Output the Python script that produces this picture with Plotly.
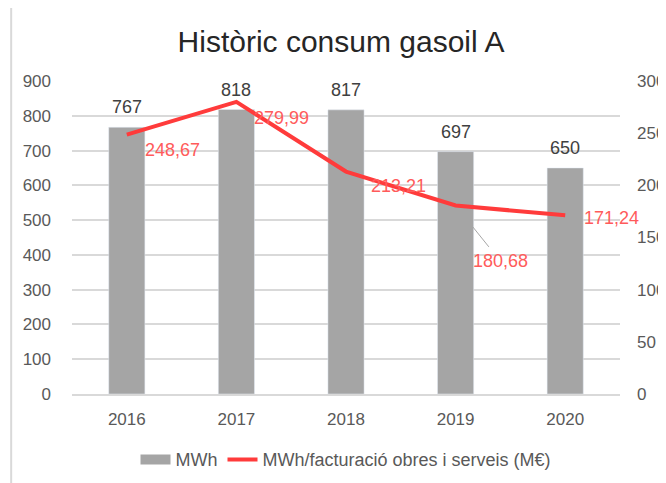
import plotly.graph_objects as go
from plotly.subplots import make_subplots

years = ["2016", "2017", "2018", "2019", "2020"]
mwh = [767, 818, 817, 697, 650]
mwh_per_m = [248.67, 279.99, 213.21, 180.68, 171.24]
line_labels = ["248,67", "279,99", "213,21", "180,68", "171,24"]

BAR_COLOR = "#A5A5A5"
LINE_COLOR = "#FF3B3B"
LABEL_RED = "#FF5B5B"
GRID = "#D9D9D9"
FONT = "Liberation Sans, Arial, sans-serif"

fig = make_subplots(specs=[[{"secondary_y": True}]])

fig.add_trace(go.Bar(
    x=years, y=mwh, marker_color=BAR_COLOR, width=0.33,
    showlegend=False, name="MWh",
), secondary_y=False)

# legend swatch for the bars (wide grey box like the original)
fig.add_trace(go.Scatter(
    x=[None], y=[None], mode="lines", name="MWh",
    line=dict(color=BAR_COLOR, width=10),
), secondary_y=False)

fig.add_trace(go.Scatter(
    x=years, y=mwh_per_m, mode="lines",
    line=dict(color=LINE_COLOR, width=4),
    name="MWh/facturació obres i serveis (M€)",
), secondary_y=True)

# bar value labels
for i, v in enumerate(mwh):
    fig.add_annotation(
        x=i, y=v, xref="x", yref="y", text=str(v), showarrow=False,
        yanchor="middle", yshift=20, font=dict(color="#404040", size=18),
    )

# line data labels (offsets in px); x given as category index
shifts = [(16, -15), (16, -16), (23, -14), None, (17, -3)]
for i, (val, lab, sh) in enumerate(zip(mwh_per_m, line_labels, shifts)):
    if sh is None:
        fig.add_annotation(
            x=i, y=val, xref="x", yref="y2", text=lab,
            showarrow=True, ax=45, ay=56, arrowhead=0, arrowwidth=1,
            arrowcolor="#A6A6A6", standoff=22, startstandoff=4,
            font=dict(color=LABEL_RED, size=18),
        )
    else:
        fig.add_annotation(
            x=i, y=val, xref="x", yref="y2", text=lab, showarrow=False,
            xanchor="left", yanchor="middle", xshift=sh[0], yshift=sh[1],
            font=dict(color=LABEL_RED, size=18),
        )

# outer chart border
fig.add_shape(type="rect", xref="paper", yref="paper",
              x0=-0.111, x1=1.1, y0=-0.4, y1=1.25,
              line=dict(color=GRID, width=2), layer="below")

# page has an 8px body margin, so margins are shifted by 8px
fig.update_layout(
    width=666, height=483,
    margin=dict(l=64, r=54, t=73, b=97, autoexpand=False),
    paper_bgcolor="white", plot_bgcolor="white",
    font=dict(family=FONT, color="#595959", size=17),
    title=dict(text="Històric consum gasoil A", x=0.5, xanchor="center",
               y=0.93, yanchor="middle",
               font=dict(size=30, color="#262626", family=FONT)),
    legend=dict(orientation="h", x=0.5, xanchor="center", y=-0.21,
                yanchor="middle", font=dict(size=18, color="#595959")),
)
fig.update_xaxes(type="category", range=[-0.5, 4.5], domain=[0, 1],
                 showgrid=False, showline=True, linecolor=GRID, linewidth=1.5,
                 ticks="", automargin=False, ticklabelstandoff=9)
fig.update_yaxes(range=[0, 900], dtick=100, showgrid=True, gridcolor=GRID,
                 gridwidth=1.5, zeroline=False, ticks="", automargin=False,
                 ticklabelstandoff=20, secondary_y=False)
fig.update_yaxes(range=[0, 300], dtick=50, showgrid=False, zeroline=False,
                 ticks="", ticklabelstandoff=16, automargin=False,
                 secondary_y=True)

fig.write_html("out.html")
